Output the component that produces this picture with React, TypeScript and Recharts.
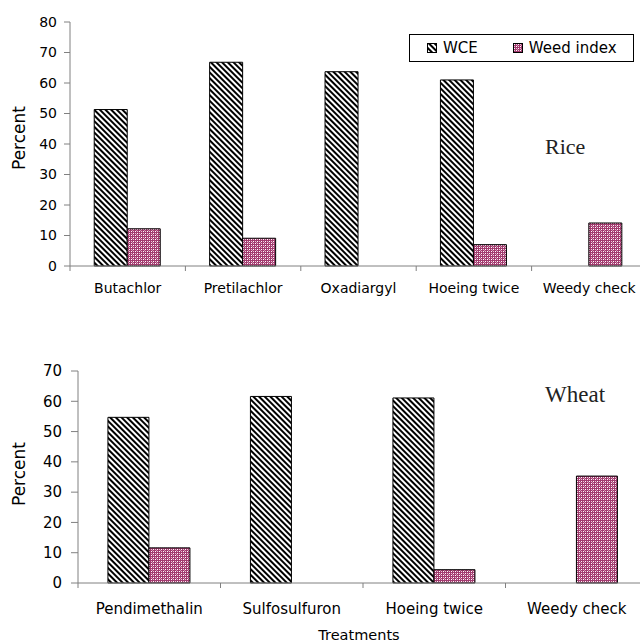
import React from 'react';
import { BarChart, Bar, XAxis, YAxis, Legend } from 'recharts';

// Rice panel
const riceCategories = ['Butachlor', 'Pretilachlor', 'Oxadiargyl', 'Hoeing twice', 'Weedy check'];
const riceWCE = [51.3, 66.8, 63.7, 61.0, null];
const riceWeedIndex = [12.2, 9.1, null, 7.0, 14.1];
const riceTicks = [0, 10, 20, 30, 40, 50, 60, 70, 80];

// Wheat panel
const wheatCategories = ['Pendimethalin', 'Sulfosulfuron', 'Hoeing twice', 'Weedy check'];
const wheatWCE = [54.7, 61.6, 61.1, null];
const wheatWeedIndex = [11.6, null, 4.4, 35.3];
const wheatTicks = [0, 10, 20, 30, 40, 50, 60, 70];

const riceData = riceCategories.map((name, i) => ({ name, wce: riceWCE[i], wi: riceWeedIndex[i] }));
const wheatData = wheatCategories.map((name, i) => ({ name, wce: wheatWCE[i], wi: wheatWeedIndex[i] }));

const SANS = 'DejaVu Sans, sans-serif';
const SERIF = 'Liberation Serif, Times New Roman, serif';
const AXIS = '#808080';

const Patterns = ({ prefix }: { prefix: string }) => (
  <defs>
    <pattern id={`${prefix}-hatch`} width="4" height="4" patternUnits="userSpaceOnUse" patternTransform="rotate(-45)">
      <rect width="4" height="4" fill="#fff" />
      <rect x="0" y="0" width="2" height="4" fill="#000" />
    </pattern>
    <pattern id={`${prefix}-dots`} width="4" height="4" patternUnits="userSpaceOnUse">
      <rect width="4" height="4" fill="#a23a6e" />
      <rect x="1" y="1" width="1" height="1" fill="#fff" />
      <rect x="3" y="3" width="1" height="1" fill="#fff" />
      <rect x="1" y="3" width="1" height="1" fill="#ecc4d8" />
      <rect x="3" y="1" width="1" height="1" fill="#ecc4d8" />
      <rect x="0" y="2" width="1" height="1" fill="#cc88aa" />
    </pattern>
  </defs>
);

// category label in the middle, small tick mark on the left edge of each band
const makeCategoryTick = (fontSize: number, margin: number, count: number) => (props: any) => {
  const { x, y, payload, index } = props;
  const half = payload.offset || 0;
  const axisY = y - margin;
  return (
    <g>
      <line x1={x - half} x2={x - half} y1={axisY} y2={axisY + 5} stroke={AXIS} />
      {index === count - 1 && <line x1={x + half} x2={x + half} y1={axisY} y2={axisY + 5} stroke={AXIS} />}
      <text x={x} y={y} dy="0.71em" textAnchor="middle" fontSize={fontSize} fontFamily={SANS} fill="#000">
        {payload.value}
      </text>
    </g>
  );
};

const PercentLabel = ({ px, py }: { px: number; py: number }) => (
  <text transform={`translate(${px},${py}) rotate(-90)`} textAnchor="middle" fontSize={17} fontFamily={SANS} fill="#000">
    Percent
  </text>
);

const TreatmentsLabel = () => (
  <text x={359} y={320} textAnchor="middle" fontSize={14.5} fontFamily={SANS} fill="#000">
    Treatments
  </text>
);

const LegendBox = () => (
  <div
    style={{
      width: 223,
      height: 26,
      border: '1px solid #000',
      background: '#fff',
      display: 'flex',
      alignItems: 'center',
      fontFamily: SANS,
      fontSize: 15,
      color: '#000',
    }}
  >
    <svg width={10} height={10} style={{ marginLeft: 17, marginRight: 6 }}>
      <Patterns prefix="lg" />
      <rect x={0.5} y={0.5} width={9} height={9} fill="url(#lg-hatch)" stroke="#000" />
    </svg>
    <span>WCE</span>
    <svg width={10} height={10} style={{ marginLeft: 35, marginRight: 6 }}>
      <rect x={0.5} y={0.5} width={9} height={9} fill="url(#lg-dots)" stroke="#000" />
    </svg>
    <span>Weed index</span>
  </div>
);

const App: React.FC = () => {
  return (
    <div style={{ position: 'absolute', left: 0, top: 0, width: 640, height: 644, overflow: 'hidden', background: '#fff' }}>
      {/* Rice */}
      <div style={{ position: 'absolute', left: 0, top: 0 }}>
        <BarChart width={660} height={305} data={riceData} margin={{ top: 22, right: 13, left: 0, bottom: 0 }} barCategoryGap="21%" barGap={0}>
          <Patterns prefix="rice" />
          <XAxis
            dataKey="name"
            height={39}
            stroke={AXIS}
            tickLine={false}
            tickSize={0}
            tickMargin={17}
            interval={0}
            tick={makeCategoryTick(14, 17, riceCategories.length)}
          />
          <YAxis
            width={70}
            domain={[0, 80]}
            ticks={riceTicks}
            interval={0}
            stroke={AXIS}
            tickSize={6}
            tickMargin={7}
            tick={{ fill: '#000', fontSize: 14, fontFamily: SANS }}
            label={<PercentLabel px={25} py={138} />}
          />
          <Legend
            layout="horizontal"
            verticalAlign="middle"
            align="center"
            wrapperStyle={{ left: 409, top: 34, width: 225 }}
            content={() => <LegendBox />}
          />
          <Bar dataKey="wce" name="WCE" fill="url(#rice-hatch)" stroke="#000" strokeWidth={1} isAnimationActive={false} />
          <Bar dataKey="wi" name="Weed index" fill="url(#rice-dots)" stroke="#000" strokeWidth={1} isAnimationActive={false} />
        </BarChart>
        <div style={{ position: 'absolute', left: 545, top: 136, fontFamily: SERIF, fontSize: 22, color: '#222', lineHeight: 1 }}>Rice</div>
      </div>

      {/* Wheat */}
      <div style={{ position: 'absolute', left: 0, top: 320 }}>
        <BarChart width={660} height={324} data={wheatData} margin={{ top: 51, right: 12, left: 0, bottom: 0 }} barCategoryGap="21%" barGap={0}>
          <Patterns prefix="wheat" />
          <XAxis
            dataKey="name"
            height={61}
            stroke={AXIS}
            tickLine={false}
            tickSize={0}
            tickMargin={20}
            interval={0}
            tick={makeCategoryTick(15, 20, wheatCategories.length)}
            label={<TreatmentsLabel />}
          />
          <YAxis
            width={78}
            domain={[0, 70]}
            ticks={wheatTicks}
            interval={0}
            stroke={AXIS}
            tickSize={7}
            tickMargin={9}
            tick={{ fill: '#000', fontSize: 15, fontFamily: SANS }}
            label={<PercentLabel px={25} py={154} />}
          />
          <Bar dataKey="wce" name="WCE" fill="url(#wheat-hatch)" stroke="#000" strokeWidth={1} isAnimationActive={false} />
          <Bar dataKey="wi" name="Weed index" fill="url(#wheat-dots)" stroke="#000" strokeWidth={1} isAnimationActive={false} />
        </BarChart>
        <div style={{ position: 'absolute', left: 545, top: 63, fontFamily: SERIF, fontSize: 23, color: '#222', lineHeight: 1 }}>Wheat</div>
      </div>
    </div>
  );
};

export default App;
